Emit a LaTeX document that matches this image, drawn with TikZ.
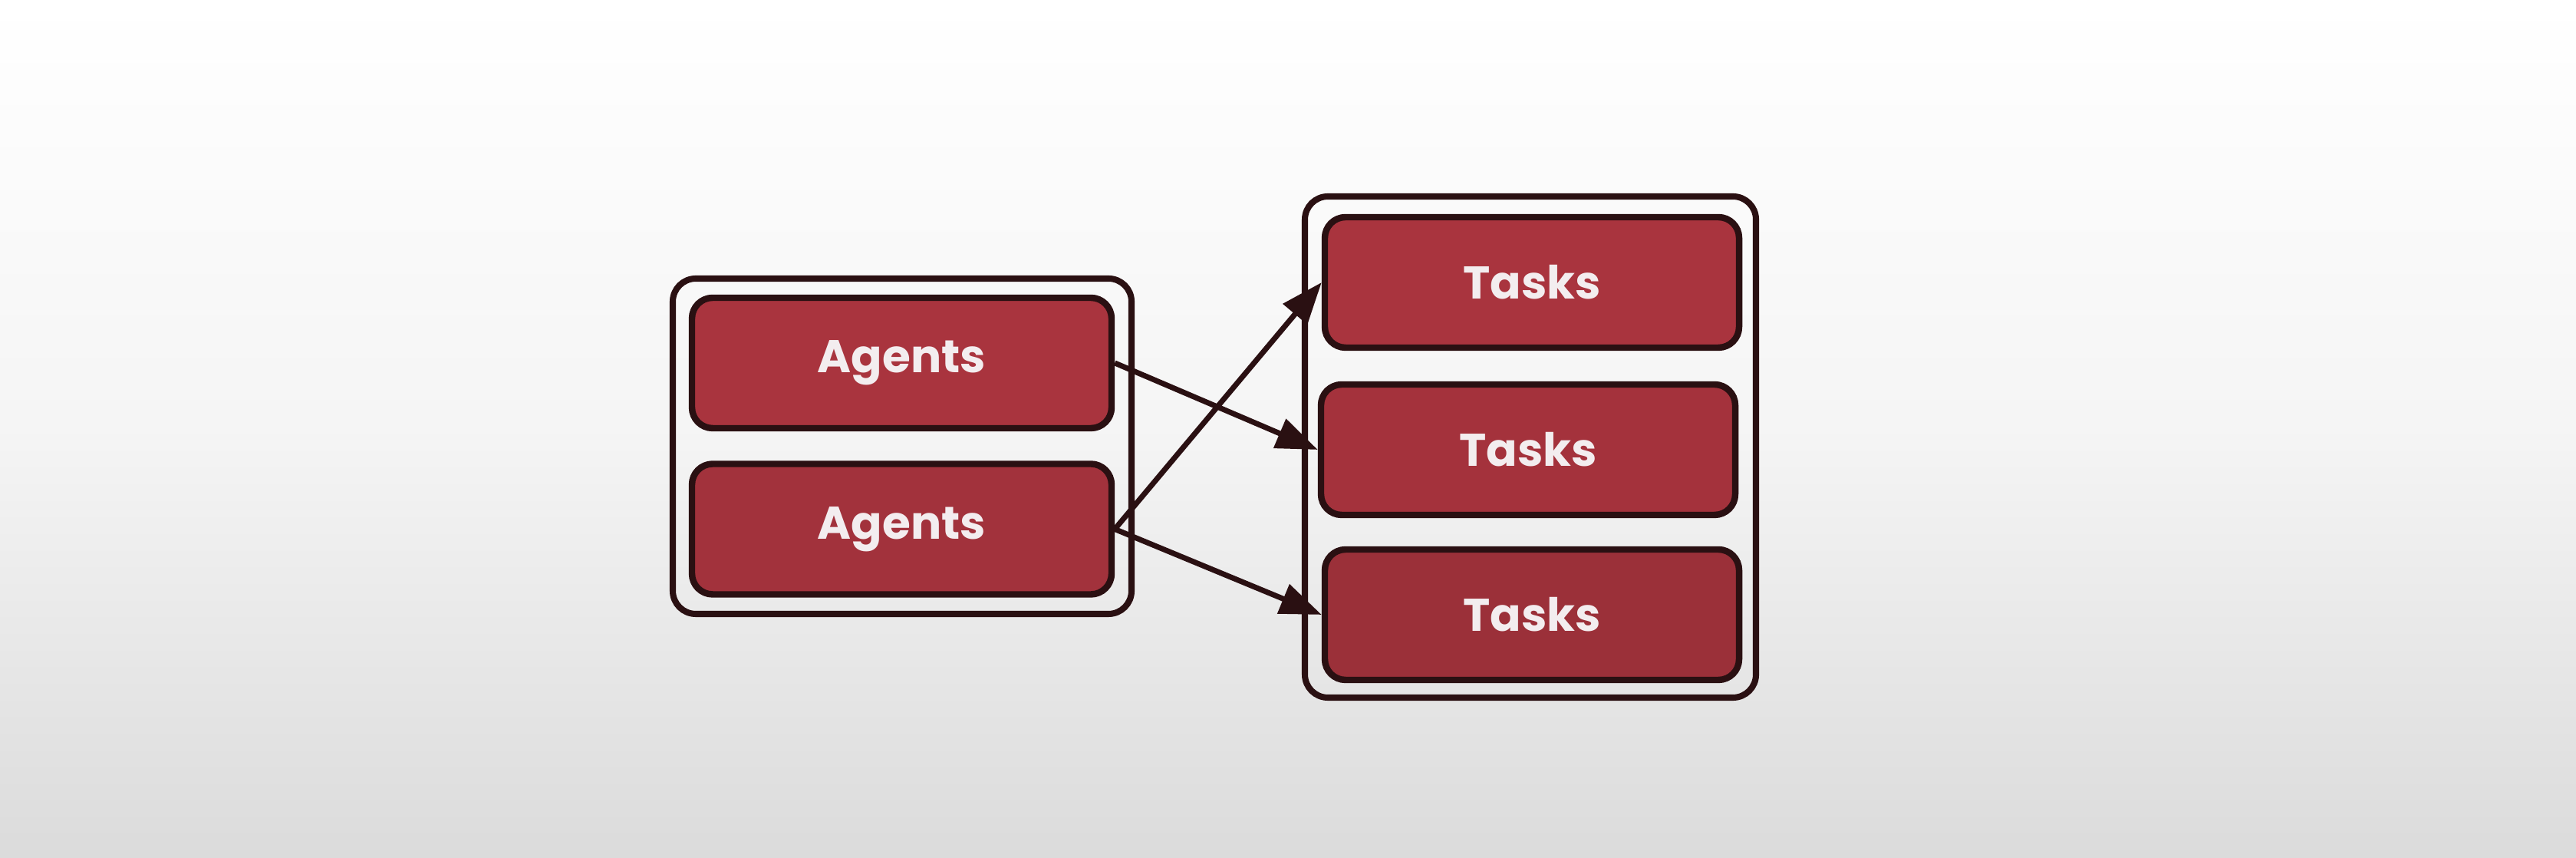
\documentclass[tikz,border=0pt]{standalone}
\usepackage{fontspec}
\setmainfont{Poppins}
\newfontfamily\boxfont{Poppins}[UprightFont={* Bold}]
\usetikzlibrary{arrows.meta}

\definecolor{boxred}{HTML}{A9343E}
\definecolor{boxedge}{HTML}{2A1012}
\definecolor{boxtext}{HTML}{F3EDEF}
\definecolor{bglow}{HTML}{DBDBDB}

\tikzset{
  group/.style={draw=boxedge, line width=2.3pt, rounded corners=0.3cm, inner sep=0},
  itembox/.style={draw=boxedge, line width=2.4pt, fill=boxred, rounded corners=0.27cm,
    text=boxtext, font=\boxfont\fontsize{17}{19}\selectfont, inner sep=0,
    minimum height=1.7cm},
  link/.style={draw=boxedge, line width=2pt, -{Triangle[length=0.54cm, width=0.4cm]}}
}

\begin{document}
\begin{tikzpicture}

\useasboundingbox (0,0) rectangle (33.58,11.18);
% Фон
\shade[top color=white, bottom color=bglow, middle color=white!96!black] (0,0) rectangle (33.58,11.18);

% Рамки
\node[group, minimum width=5.98cm, minimum height=4.37cm] (agentsgroup) at (11.76,5.365) {};
\node[group, minimum width=5.88cm, minimum height=6.53cm] (tasksgroup) at (19.95,5.355) {};

% Агенты
\foreach \i/\y/\c in {1/6.45/100, 2/4.285/96}
    \node[itembox, minimum width=5.47cm, fill=boxred!\c!black] (agent\i) at (11.755,\y) {Agents};

% Задачи
\foreach \i/\x/\y/\c in {1/19.97/7.50/100, 2/19.92/5.32/97, 3/19.97/3.17/92}
    \node[itembox, minimum width=5.4cm, fill=boxred!\c!black] (task\i) at (\x,\y) {Tasks};

% Стрелки
\draw[link] (agent1.east) -- (task2.west);
\draw[link] (agent2.east) -- (task1.west);
\draw[link] (agent2.east) -- (task3.west);
\end{tikzpicture}
\end{document}
